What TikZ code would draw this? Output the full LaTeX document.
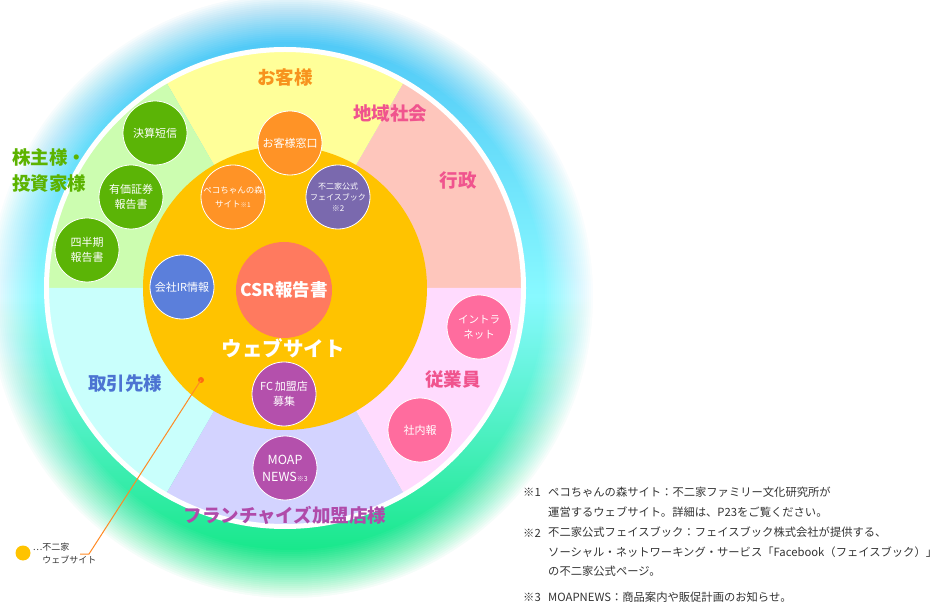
\documentclass[tikz,border=0pt]{standalone}
\usepackage{fontspec}
\setmainfont{Noto Sans CJK JP}
\usepackage{xcolor}
\usetikzlibrary{positioning}

\definecolor{secyel}{HTML}{FFFF99}
\definecolor{secsal}{HTML}{FEC6BC}
\definecolor{secgrn}{HTML}{CCFDB0}
\definecolor{seccyn}{HTML}{C9FFFC}
\definecolor{seclav}{HTML}{D3D3FF}
\definecolor{secpnk}{HTML}{FFDBFE}
\definecolor{webor}{HTML}{FFC300}
\definecolor{kgreen}{HTML}{5BB406}
\definecolor{kor}{HTML}{FF9326}
\definecolor{kpurple}{HTML}{7A69AE}
\definecolor{kblue}{HTML}{5B7FDB}
\definecolor{kcsr}{HTML}{FF7A5F}
\definecolor{kmag}{HTML}{B450AC}
\definecolor{kpink}{HTML}{FF6C9E}
\definecolor{lor}{HTML}{F7931E}
\definecolor{lpink}{HTML}{F0548E}
\definecolor{lgreen}{HTML}{5CB300}
\definecolor{lblue}{HTML}{4C74D2}
\definecolor{lmag}{HTML}{B04AAA}
\definecolor{lineor}{HTML}{FF8A24}
\definecolor{dotor}{HTML}{FF6A10}
\definecolor{ftext}{HTML}{333333}
\definecolor{glowg}{HTML}{00E472}
\definecolor{glowc}{HTML}{88F9FF}
\definecolor{glowb}{HTML}{45BFF5}

\begin{document}
\begin{tikzpicture}[x=1pt,y=1pt,node distance=2pt]
  \tikzstyle{sm}=[circle, draw=white, line width=0.8pt, minimum size=64pt, inner sep=0pt, text=white, align=center, font=\fontsize{11}{15}\selectfont]
  \tikzstyle{sec}=[inner sep=0pt, font=\fontsize{18.5}{26}\selectfont\bfseries]
  \tikzstyle{note}=[inner sep=0pt, anchor=west, align=left, text=ftext, font=\fontsize{11.3}{19.5}\selectfont]
  \useasboundingbox (0,0) rectangle (951,603);
  \coordinate (O) at (285,315);
  \coordinate (G) at (291,307);
  % glow: one shaded disc, faded out by white rings
  \fill[top color=glowb, bottom color=glowg, middle color=glowc] (G) circle (310);
  \foreach \k [evaluate=\k as \op using 1/(26-\k), evaluate=\k as \rr using 252+2*\k] in {1,...,25}
    \fill[white, opacity=\op, even odd rule] (G) circle (330) circle (\rr);
  % sectors
  \foreach \a/\b/\col in {0/60/secsal,60/120/secyel,120/180/secgrn,180/240/seccyn,240/300/seclav,300/360/secpnk}
    \fill[\col] (O) -- ++(\a:238) arc (\a:\b:238) -- cycle;
  \draw[white, line width=5pt] (O) circle (238.5);
  \fill[webor] (O) circle (142);

  \node[sm, fill=kgreen]  (kessan)    at (155,470) {決算短信};
  \node[sm, fill=kgreen]  (yuka)      at (131,406) {有価証券\\報告書};
  \node[sm, fill=kgreen]  (shihanki)  at (87,353)  {四半期\\報告書};
  \node[sm, fill=kor]     (madoguchi) at (290,460) {お客様窓口};
  \node[sm, fill=kor, font=\fontsize{8.5}{14}\selectfont] (peko) at (233,406) {ペコちゃんの森\\サイト{\fontsize{6.5}{8}\selectfont ※1}};
  \node[sm, fill=kpurple, font=\fontsize{8}{11}\selectfont] (fbook) at (338,406) {不二家公式\\フェイスブック\\※2};
  \node[sm, fill=kblue]   (ir)        at (182,316) {会社IR情報};
  \node[circle, fill=kcsr, minimum size=96pt, inner sep=0pt, text=white, font=\fontsize{17.5}{20}\selectfont\bfseries] (csr) at (284,313) {CSR報告書};
  \node[text=white, inner sep=0pt, font=\fontsize{20.5}{24}\selectfont\bfseries] (web) at (283,255) {ウェブサイト};
  \node[sm, fill=kmag]    (fc)        at (284,209) {FC\,加盟店\\募集};
  \node[sm, fill=kmag, font=\fontsize{12.5}{17}\selectfont] (moap) at (285,135) {MOAP\\NEWS{\fontsize{7}{8}\selectfont ※3}};
  \node[sm, fill=kpink, font=\fontsize{10.5}{15}\selectfont] (intra) at (479,276) {イントラ\\ネット};
  \node[sm, fill=kpink]   (shanai)    at (420,173) {社内報};

  % sector labels
  \node[sec, text=lor]   (okyaku)   at (285,526) {お客様};
  \node[sec, text=lpink] (chiiki)   at (390,490) {地域社会};
  \node[sec, text=lpink] (gyosei)   at (458,423) {行政};
  \node[sec, text=lgreen, anchor=west, align=left] (kabunushi) at (12,433) {株主様・\\投資家様};
  \node[sec, text=lblue] (torihiki) at (125,220) {取引先様};
  \node[sec, text=lpink] (jugyoin)  at (453,223) {従業員};
  \node[sec, text=lmag]  (franchise) at (285,88) {フランチャイズ加盟店様};

  % legend
  \node[circle, fill=dotor, minimum size=6pt, inner sep=0pt] (wdot) at (201,223) {};
  \node[circle, fill=webor, minimum size=15pt, inner sep=0pt] (ldot) at (23,50) {};
  \node[inner sep=0pt, align=left, text=ftext, font=\fontsize{9}{13}\selectfont] (ltext) [right=2pt of ldot] {…不二家\\\phantom{…}ウェブサイト};
  \coordinate (bend) at (89,49);
  \coordinate (lend) at (80,49);
  \draw[lineor, line width=1pt] (wdot.center) -- (bend) -- (lend);

  % notes
  \node[note] (m1) at (523,111) {※1};
  \node[note] (n1) at (548,101) {ペコちゃんの森サイト：不二家ファミリー文化研究所が\\運営するウェブサイト。詳細は、P23をご覧ください。};
  \node[note] (m2) at (523,70) {※2};
  \node[note] (n2) at (548,51) {不二家公式フェイスブック：フェイスブック株式会社が提供する、\\ソーシャル・ネットワーキング・サービス「Facebook（フェイスブック）」\\の不二家公式ページ。};
  \node[note] (m3) at (523,6) {※3};
  \node[note] (n3) at (548,6) {MOAPNEWS：商品案内や販促計画のお知らせ。};
\end{tikzpicture}
\end{document}
